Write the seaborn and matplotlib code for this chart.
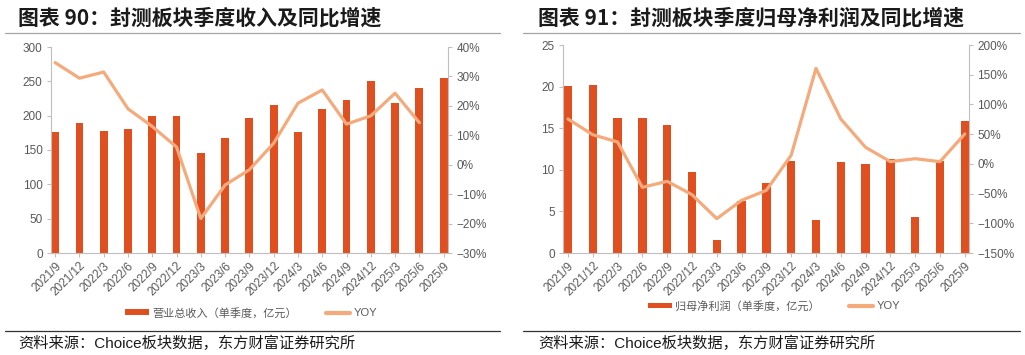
import numpy as np
import pandas as pd
import matplotlib
matplotlib.use("Agg")
import matplotlib.pyplot as plt
from matplotlib.patches import Patch
from matplotlib.lines import Line2D
from matplotlib.ticker import FuncFormatter, MultipleLocator
import seaborn as sns

quarters = ["2021/9", "2021/12", "2022/3", "2022/6", "2022/9", "2022/12", "2023/3",
            "2023/6", "2023/9", "2023/12", "2024/3", "2024/6", "2024/9", "2024/12",
            "2025/3", "2025/6", "2025/9"]
revenue = [176, 189, 178, 180, 200, 200, 146, 167, 197, 215, 176, 209, 223, 250, 219, 240, 255]
revenue_yoy = [34.7, 29.4, 31.5, 19.0, 13.0, 6.0, -18.3, -6.9, -1.7, 7.3, 20.9, 25.4, 13.8,
               16.6, 24.3, 14.3, np.nan]
profit = [20.1, 20.2, 16.2, 16.2, 15.4, 9.7, 1.6, 6.3, 8.4, 11.1, 4.0, 10.9, 10.7, 11.3, 4.3, 11.0, 15.9]
profit_yoy = [75.5, 49.0, 36.8, -39.5, -29.4, -51.8, -92.2, -61.4, -44.5, 14.4, 160.7, 75.5,
              27.8, 3.7, 8.7, 3.7, 50.3]

titles = ["图表 90：封测板块季度收入及同比增速", "图表 91：封测板块季度归母净利润及同比增速"]
bar_names = ["营业总收入（单季度，亿元）", "归母净利润（单季度，亿元）"]
line_name = "YOY"
source = "资料来源：Choice板块数据，东方财富证券研究所"

sns.set_theme(style="white")
plt.rcParams['font.family'] = ['Liberation Sans', 'Noto Sans CJK SC', 'DejaVu Sans']
plt.rcParams['axes.unicode_minus'] = True

BAR = "#E04F1F"
LINE = "#F5AA7C"
GRID = "#BFBFBF"
TXT = "#595959"
W, H = 1025, 355

fig = plt.figure(figsize=(W / 100, H / 100), dpi=100)
fig.patch.set_facecolor("white")


def px_axes(x0, y0, x1, y1):
    return fig.add_axes([x0 / W, (H - y1) / H, (x1 - x0) / W, (y1 - y0) / H])


def pct_fmt(v, pos):
    s = f"{v:.0f}%"
    return s.replace("-", "\u2212")


panels = [
    dict(box=(51, 47, 448, 253), bars=revenue, yoy=revenue_yoy, ylim=(0, 300), ystep=50,
         y2lim=(-30, 40), y2step=10, xlim=(-0.17, 16.18), width=0.32,
         title_x=18, line_x=(5, 500), legend_y=313, legend_x=251),
    dict(box=(563, 45, 969, 253), bars=profit, yoy=profit_yoy, ylim=(0, 25), ystep=5,
         y2lim=(-150, 200), y2step=50, xlim=(-0.2, 16.17), width=0.34,
         title_x=538, line_x=(523, 1020), legend_y=306, legend_x=774),
]

for i, p in enumerate(panels):
    ax = px_axes(*p["box"])
    df = pd.DataFrame({"q": quarters, "v": p["bars"], "idx": np.arange(len(quarters)),
                       "yoy": p["yoy"]})
    sns.barplot(data=df, x="q", y="v", color=BAR, width=p["width"], ax=ax,
                saturation=1, edgecolor="none", linewidth=0)
    ax.set_xlim(*p["xlim"])
    ax.set_ylim(*p["ylim"])
    ax.yaxis.set_major_locator(MultipleLocator(p["ystep"]))
    ax.set_xlabel("")
    ax.set_ylabel("")
    ax.set_xticks(np.arange(len(quarters)))
    ax.set_xticklabels(quarters, rotation=45, ha="right", va="top",
                       rotation_mode="anchor", fontsize=8.5, color=TXT)
    ax.tick_params(axis="y", labelsize=8.5, labelcolor=TXT, length=3, color=GRID, width=0.8,
                   direction="out", left=True, pad=3)
    ax.tick_params(axis="x", length=3, color=GRID, width=0.8, direction="out", bottom=True, pad=2)
    for side in ["top", "right"]:
        ax.spines[side].set_visible(False)
    for side in ["left", "bottom"]:
        ax.spines[side].set_color(GRID)
        ax.spines[side].set_linewidth(0.8)
    ax.grid(False)

    ax2 = ax.twinx()
    sns.lineplot(data=df, x="idx", y="yoy", color=LINE, linewidth=2.3, ax=ax2,
                 legend=False)
    ax2.set_ylim(*p["y2lim"])
    ax2.yaxis.set_major_locator(MultipleLocator(p["y2step"]))
    ax2.yaxis.set_major_formatter(FuncFormatter(pct_fmt))
    ax2.set_ylabel("")
    ax2.set_xlabel("")
    ax2.tick_params(axis="y", labelsize=8.5, labelcolor=TXT, length=3, color=GRID, width=0.8,
                    direction="out", right=True, pad=3)
    for side in ["top", "left", "bottom"]:
        ax2.spines[side].set_visible(False)
    ax2.spines["right"].set_color(GRID)
    ax2.spines["right"].set_linewidth(0.8)
    ax2.grid(False)
    ax.set_xlim(*p["xlim"])

    # title
    fig.text(p["title_x"] / W, 1 - 18 / H, titles[i], fontsize=15, fontweight="bold",
             color="#1a1a1a", family=["Noto Sans CJK SC", "DejaVu Sans"],
             ha="left", va="center")
    x0, x1 = p["line_x"]
    fig.add_artist(Line2D([x0 / W, x1 / W], [1 - 32.5 / H] * 2, color="#A6A6A6", lw=0.9))
    fig.add_artist(Line2D([x0 / W, x1 / W], [1 - 331 / H] * 2, color="#333333", lw=0.9))
    fig.text(p["title_x"] / W, 1 - 343 / H, source, fontsize=11, color="#1a1a1a",
             family=["Liberation Sans", "Noto Sans CJK SC"], ha="left", va="center")

    handles = [Patch(facecolor=BAR, edgecolor="none", label=bar_names[i]),
               Line2D([0], [0], color=LINE, lw=3, label=line_name)]
    fig.legend(handles=handles, loc="center", ncol=2,
               bbox_to_anchor=(p["legend_x"] / W, 1 - p["legend_y"] / H),
               frameon=False, fontsize=8, labelcolor=TXT, handlelength=2.2,
               handleheight=0.45, columnspacing=2.6, handletextpad=0.3)

fig.savefig("out.png", dpi=100, facecolor="white")
